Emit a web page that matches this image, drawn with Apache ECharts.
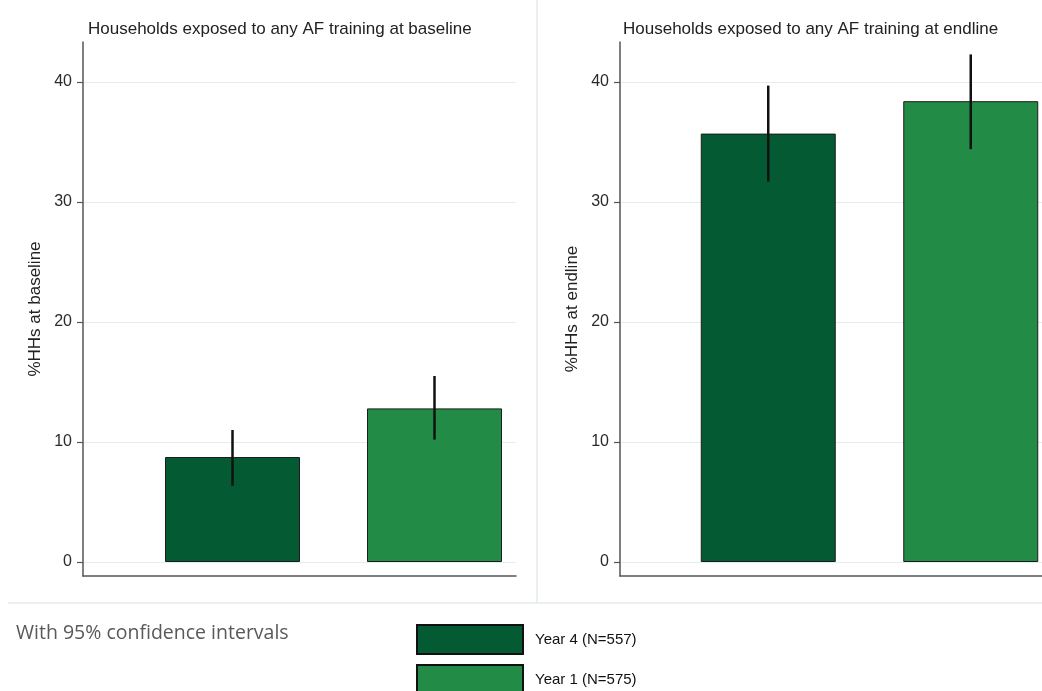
<!DOCTYPE html>
<html>
<head>
<meta charset="utf-8">
<script src="https://cdn.jsdelivr.net/npm/echarts@6/dist/echarts.min.js"></script>
<style>
  html, body { margin: 0; padding: 0; background: #fff; }
  #chart { width: 1042px; height: 691px; }
</style>
</head>
<body>
<div id="chart"></div>
<script>
// groups (legend) and values
var groups = ['Year 4 (N=557)', 'Year 1 (N=575)'];
var colors = ['#045a32', '#228b46'];
var panelTitles = ['Households exposed to any AF training at baseline', 'Households exposed to any AF training at endline'];
var axisNames = ['%HHs at baseline', '%HHs at endline'];

var baselineMean = [8.75, 12.8];
var baselineLow = [6.35, 10.2];
var baselineHigh = [11.0, 15.5];

var endlineMean = [35.7, 38.4];
var endlineLow = [31.7, 34.4];
var endlineHigh = [39.7, 42.3];

var yTicks = [0, 10, 20, 30, 40];

var panels = [
  {mean: baselineMean, low: baselineLow, high: baselineHigh},
  {mean: endlineMean, low: endlineLow, high: endlineHigh}
];

// layout of each panel (pixels)
var layout = [
  {axisX: 83, frameW: 433, barLeft: 131.5, barW: 404, titleX: 83},
  {axisX: 620, frameW: 440, barLeft: 667, barW: 405, titleX: 618}
];

var FONT = 'Liberation Sans, Arial, sans-serif';
var chart = echarts.init(document.getElementById('chart'));

var grids = [], xAxes = [], yAxes = [], series = [];

layout.forEach(function(l, p) {
  // frame: axis lines and axis name
  grids.push({left: l.axisX, width: l.frameW, top: 42, height: 534, outerBoundsMode: 'none'});
  // scale: ticks, labels, grid lines
  grids.push({left: l.axisX, width: l.frameW, top: 82, height: 480, outerBoundsMode: 'none'});
  // bars
  grids.push({left: l.barLeft, width: l.barW, top: 82, height: 480, outerBoundsMode: 'none'});

  xAxes.push({
    gridIndex: 3 * p, type: 'value', min: 0, max: 1,
    axisLine: {show: true, lineStyle: {color: '#555', width: 1.5}},
    axisTick: {show: false}, axisLabel: {show: false}, splitLine: {show: false}
  });
  xAxes.push({gridIndex: 3 * p + 1, type: 'value', min: 0, max: 1, show: false});
  xAxes.push({gridIndex: 3 * p + 2, type: 'category', data: groups, boundaryGap: true, show: false});

  yAxes.push({
    gridIndex: 3 * p, type: 'value', min: 0, max: 1,
    axisLine: {show: true, lineStyle: {color: '#555', width: 1.5}},
    axisTick: {show: false}, axisLabel: {show: false}, splitLine: {show: false},
    name: axisNames[p], nameLocation: 'middle', nameGap: 39,
    nameTextStyle: {color: '#222', fontSize: 17, fontFamily: FONT}
  });
  yAxes.push({
    gridIndex: 3 * p + 1, type: 'value',
    min: yTicks[0], max: yTicks[yTicks.length - 1], interval: 10,
    axisLine: {show: false},
    axisTick: {show: true, length: 6, lineStyle: {color: '#555', width: 1.2}},
    axisLabel: {color: '#2a2a2a', fontSize: 16, fontFamily: FONT, margin: 11},
    splitLine: {show: true, lineStyle: {color: '#e3ecee', width: 1.2}}
  });
  yAxes.push({
    gridIndex: 3 * p + 2, type: 'value',
    min: yTicks[0], max: yTicks[yTicks.length - 1], show: false
  });

  var d = panels[p];
  groups.forEach(function(g, gi) {
    series.push({
      type: 'bar', name: g,
      xAxisIndex: 3 * p + 2, yAxisIndex: 3 * p + 2,
      barWidth: 135, barGap: '-100%',
      itemStyle: {color: colors[gi], borderColor: '#1c1c1c', borderWidth: 1},
      data: groups.map(function(_, i) { return i === gi ? d.mean[gi] : '-'; }),
      silent: true, animation: false
    });
  });

  series.push({
    type: 'custom', name: 'ci' + p,
    xAxisIndex: 3 * p + 2, yAxisIndex: 3 * p + 2,
    encode: {x: 0, y: [1, 2]},
    data: groups.map(function(_, i) { return [i, d.low[i], d.high[i]]; }),
    renderItem: function(params, api) {
      var a = api.coord([api.value(0), api.value(1)]);
      var b = api.coord([api.value(0), api.value(2)]);
      return {
        type: 'line',
        shape: {x1: a[0], y1: a[1], x2: b[0], y2: b[1]},
        style: {stroke: '#111', lineWidth: 2.5}
      };
    },
    z: 10, silent: true, animation: false
  });
});

// one legend per group so the second box can run off the bottom edge
var legends = groups.map(function(g, i) {
  return {
    data: [g],
    orient: 'vertical',
    left: 411, top: 619 + i * 40,
    itemWidth: 106, itemHeight: 29,
    icon: 'rect',
    itemStyle: {borderColor: '#111', borderWidth: 2},
    textStyle: {fontSize: 15, color: '#111', fontFamily: FONT, padding: [0, 0, 0, 7]},
    selectedMode: false
  };
});

var option = {
  backgroundColor: '#fff',
  animation: false,
  title: [
    {text: panelTitles[0], left: layout[0].titleX, top: 16,
      textStyle: {fontSize: 17, fontWeight: 'normal', color: '#222', fontFamily: FONT}},
    {text: panelTitles[1], left: layout[1].titleX, top: 16,
      textStyle: {fontSize: 17, fontWeight: 'normal', color: '#222', fontFamily: FONT}},
    {text: 'With 95% confidence intervals', left: 11, top: 618,
      textStyle: {fontSize: 19.5, fontWeight: 'normal', color: '#595959', fontFamily: 'Open Sans, Lato, sans-serif'}}
  ],
  legend: legends,
  graphic: [
    {type: 'line', shape: {x1: 537, y1: 0, x2: 537, y2: 603}, style: {stroke: '#e3eaec', lineWidth: 1.5}, silent: true},
    {type: 'line', shape: {x1: 8, y1: 603, x2: 1042, y2: 603}, style: {stroke: '#e3eaec', lineWidth: 1.5}, silent: true}
  ],
  grid: grids,
  xAxis: xAxes,
  yAxis: yAxes,
  series: series
};

chart.setOption(option);
</script>
</body>
</html>
